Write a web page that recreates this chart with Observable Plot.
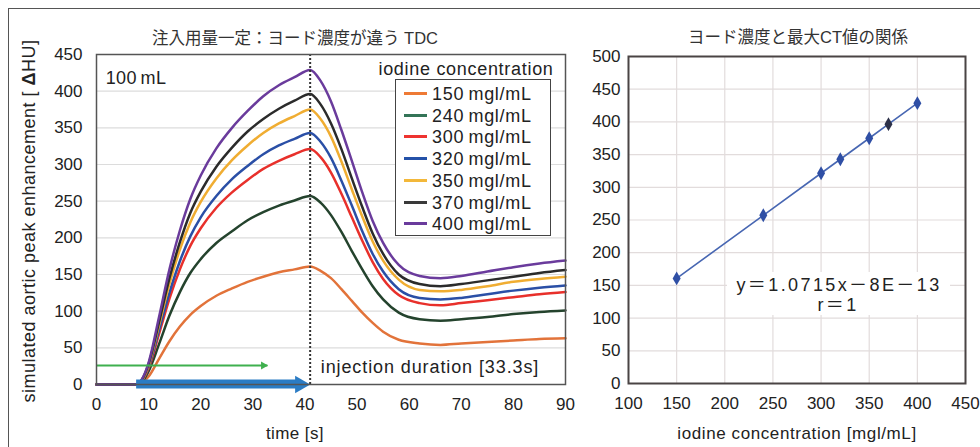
<!DOCTYPE html>
<html><head><meta charset="utf-8">
<script src="https://cdn.jsdelivr.net/npm/d3@7"></script>
<script src="https://cdn.jsdelivr.net/npm/@observablehq/plot@0.6"></script>
<style>
body{margin:0;background:#fff;}
#root{position:relative;width:980px;height:447px;overflow:hidden;font-family:"Liberation Sans","Noto Sans CJK JP",sans-serif;color:#222;}
#root svg{position:absolute;top:0;}
.t{position:absolute;white-space:nowrap;line-height:1;}
.outer{position:absolute;left:8px;top:8px;right:-2px;bottom:-2px;border-top:1px solid #555;border-left:1px solid #555;}
.legend{position:absolute;left:395px;top:79px;width:156px;height:157px;border:1px solid #444;background:#fff;box-sizing:border-box;}
.row{position:absolute;left:0;height:22px;width:100%;}
.sw{position:absolute;left:8px;top:10px;width:23px;height:3px;}
.lab{position:absolute;left:36px;top:2px;font-size:18px;letter-spacing:0.7px;}
</style></head><body><div id="root"><div class="outer"></div></div>
<script>
// ---- data ----
const time = [0, 7.5, 9, 10, 12, 14, 16, 18, 20, 23, 26, 29, 32, 35, 38, 41, 43, 45, 47, 49, 51, 53, 55, 58, 62, 66, 70, 75, 80, 85, 90];
const s150 = [0,0,4,11,35,59,79,95,107,121,131,140,147,153,157,161,155,145,130,114,98,84,72,61,56,54,56,58,60,62,63];
const s240 = [0,0,6,18,55,94,126,152,171,193,209,224,235,244,251,257,248,231,208,182,157,134,116,98,89,87,89,92,96,99,101];
const s300 = [0,0,8,22,69,117,157,189,213,241,262,279,294,305,314,321,310,289,260,228,196,167,144,122,111,108,111,115,119,123,126];
const s320 = [0,0,9,24,74,125,168,202,228,257,280,298,314,326,335,343,331,309,278,244,209,178,154,130,118,116,118,123,128,132,135];
const s350 = [0,0,9,26,81,137,184,221,249,281,306,326,343,356,366,375,362,338,304,266,229,195,169,143,129,127,129,134,140,144,147];
const s370 = [0,0,10,28,85,145,194,234,263,297,323,345,362,376,387,396,382,356,321,281,242,206,178,150,137,134,137,142,147,152,156];
const s400 = [0,0,11,30,92,157,210,253,285,322,350,373,393,408,419,429,414,386,347,305,262,223,193,163,148,145,148,154,160,165,169];
const concentrations = [150, 240, 300, 320, 350, 370, 400];
const seriesValues = [s150, s240, s300, s320, s350, s370, s400];
const peakValues = [160.7, 257.2, 321.5, 342.9, 375.0, 396.5, 428.6];
const unit = "mgl/mL";
const xTicksLeft = [0, 10, 20, 30, 40, 50, 60, 70, 80, 90];
const yTicksLeft = [0, 50, 100, 150, 200, 250, 300, 350, 400, 450];
const xTicksRight = [100, 150, 200, 250, 300, 350, 400, 450];
const yTicksRight = [0, 50, 100, 150, 200, 250, 300, 350, 400, 450, 500];
const injectionStart = 7.7;
const injectionEnd = 41;
const greenArrowEnd = 32.8;
const greenArrowLevel = 26;
const titleLeft = "注入用量一定：ヨード濃度が違う TDC";
const titleRight = "ヨード濃度と最大CT値の関係";
const equationText = "y＝1.0715x－8E－13";
const rText = "r＝1";

// ---- styles ----
const lineColors = ["#e2733a", "#24432d", "#e8302b", "#2a4fa6", "#f0ad32", "#2b2b2b", "#6a3b9c"];
const swatchColors = ["#ee7a35", "#347457", "#ee3330", "#2451a8", "#f3b83a", "#3a3a3a", "#6a3b9c"];
const labels = concentrations.map(c => c + unit);

const rows = [];
seriesValues.forEach((vals, k) => vals.forEach((v, i) => rows.push({t: time[i], v, c: labels[k]})));
const points = concentrations.map((c, i) => ({c, p: peakValues[i]}));

const fontStyle = {fontFamily: '"Liberation Sans","Noto Sans CJK JP",sans-serif', fontSize: "17px", color: "#222", background: "transparent", overflow: "visible"};

const left = Plot.plot({
  width: 575, height: 447,
  marginLeft: 96, marginRight: 10, marginTop: 54, marginBottom: 63,
  x: {domain: [0, 90]},
  y: {domain: [0, 450]},
  color: {domain: labels, range: lineColors},
  style: fontStyle,
  marks: [
    Plot.gridY(yTicksLeft, {stroke: "#dcdcdc", strokeOpacity: 1, strokeWidth: 1.2}),
    Plot.axisX({ticks: xTicksLeft, tickSize: 0, tickPadding: 13, label: null, tickFormat: d => d}),
    Plot.axisY({ticks: yTicksLeft, tickSize: 0, tickPadding: 14, label: null, tickFormat: d => d}),
    Plot.line(rows, {x: "t", y: "v", stroke: "c", z: "c", strokeWidth: 2.5, curve: "monotone-x"}),
    Plot.ruleX([injectionEnd], {y1: 0, y2: 450, stroke: "#333", strokeWidth: 2, strokeDasharray: "2,2"}),
    Plot.link([0], {x1: 0, x2: greenArrowEnd, y1: greenArrowLevel, y2: greenArrowLevel, stroke: "#3fb04e", strokeWidth: 2}),
    Plot.dot([0], {x: greenArrowEnd, y: greenArrowLevel, symbol: "triangle", rotate: 90, r: 3, fill: "#3fb04e", stroke: "none", dx: -4}),
    Plot.rect([0], {x1: injectionStart, x2: injectionEnd, y1: 0, y2: 0, fill: "#2b7cc4", insetRight: 12, insetTop: -4.5, insetBottom: -4.5}),
    Plot.dot([0], {x: injectionEnd, y: 0, symbol: "triangle", rotate: 90, r: 6.5, fill: "#2b7cc4", stroke: "none", dx: -10}),
    Plot.frame({stroke: "#555", strokeWidth: 1.5})
  ]
});
left.style.left = "0px";

const right = Plot.plot({
  width: 405, height: 447,
  marginLeft: 53, marginRight: 15, marginTop: 56, marginBottom: 64,
  x: {domain: [100, 450]},
  y: {domain: [0, 500]},
  style: fontStyle,
  marks: [
    Plot.gridX(xTicksRight, {stroke: "#e2dcdc", strokeOpacity: 1, strokeWidth: 1.2}),
    Plot.gridY(yTicksRight, {stroke: "#e2dcdc", strokeOpacity: 1, strokeWidth: 1.2}),
    Plot.axisX({ticks: xTicksRight, tickSize: 0, tickPadding: 13, label: null, tickFormat: d => d}),
    Plot.axisY({ticks: yTicksRight, tickSize: 0, tickPadding: 8, label: null, tickFormat: d => d}),
    Plot.line(points, {x: "c", y: "p", stroke: "#4766b2", strokeWidth: 1.6}),
    Plot.dot(points, {x: "c", y: "p", symbol: "diamond", r: 4.2, fill: d => d.c === 370 ? "#2c3048" : "#2f4fa5", stroke: "none"}),
    Plot.frame({stroke: "#4a4444", strokeWidth: 2})
  ]
});
right.style.left = "575px";

const root = document.getElementById("root");
root.appendChild(left);
root.appendChild(right);

function addText(html, x, y, size, extra) {
  const d = document.createElement("div");
  d.className = "t";
  d.innerHTML = html;
  d.style.left = x + "px";
  d.style.top = y + "px";
  d.style.fontSize = size + "px";
  d.style.transform = "translate(-50%,-50%)";
  if (extra) Object.assign(d.style, extra);
  root.appendChild(d);
  return d;
}
addText(titleLeft, 295, 38, 16.5, {color: "#333"});
addText(titleRight, 798, 37, 16.5, {color: "#333"});
addText("time [s]", 295, 433, 17, {letterSpacing: "0.4px"});
addText("iodine concentration [mgl/mL]", 797, 433, 17, {letterSpacing: "0.6px"});
addText("simulated aortic peak enhancement [ <b>Δ</b>HU]", 29, 221, 18, {transform: "translate(-50%,-50%) rotate(-90deg)", letterSpacing: "0.5px"});
addText("100\u2009mL", 136, 78, 18, {letterSpacing: "0.3px"});
addText("iodine concentration", 466, 69, 18, {letterSpacing: "0.7px"});
addText("injection duration [33.3s]", 430, 367, 18, {letterSpacing: "0.9px"});

const eq = document.createElement("div");
eq.className = "t";
Object.assign(eq.style, {left: "727px", top: "272px", width: "223px", height: "43px", background: "#fff"});
root.appendChild(eq);
addText(equationText, 839, 285, 18, {letterSpacing: "2.4px"});
addText(rText, 838, 305, 18, {letterSpacing: "2.4px"});

const lg = document.createElement("div");
lg.className = "legend";
labels.forEach((l, i) => {
  const r = document.createElement("div");
  r.className = "row";
  r.style.top = (2 + i * 21.7) + "px";
  r.innerHTML = `<div class="sw" style="background:${swatchColors[i]}"></div><div class="lab">${concentrations[i]}\u2009${unit}</div>`;
  lg.appendChild(r);
});
root.appendChild(lg);
</script>
</body></html>
